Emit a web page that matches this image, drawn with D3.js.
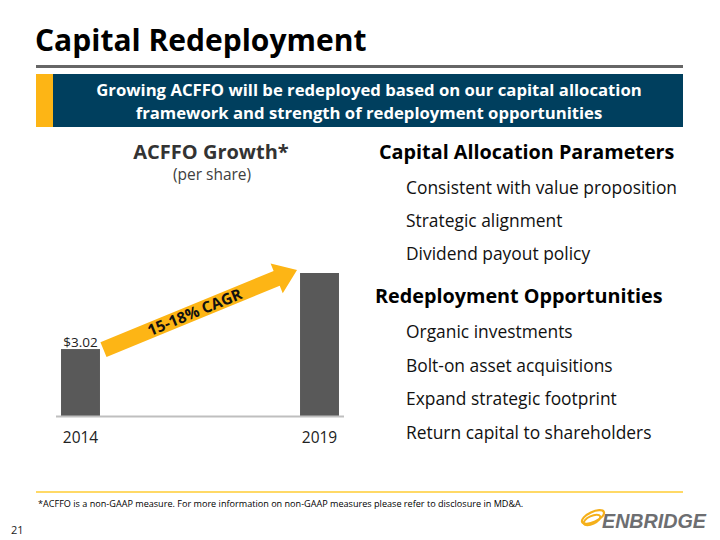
<!DOCTYPE html>
<html>
<head>
<meta charset="utf-8">
<script src="https://cdn.jsdelivr.net/npm/d3@7"></script>
<style>
  body { margin: 0; background: #fff; }
  svg { display: block; font-family: "Open Sans", Lato, sans-serif; }
</style>
</head>
<body>
<svg id="slide" width="720" height="540"></svg>
<script>
// chart data
const years = ["2014", "2019"];
const acffo = [3.02, 6.45];
const valueLabels = ["$3.02", ""];
const cagrLabel = "15-18% CAGR";

// side text
const allocHeading = "Capital Allocation Parameters";
const allocItems = ["Consistent with value proposition", "Strategic alignment", "Dividend payout policy"];
const redeployHeading = "Redeployment Opportunities";
const redeployItems = ["Organic investments", "Bolt-on asset acquisitions", "Expand strategic footprint", "Return capital to shareholders"];

const svg = d3.select("#slide");

// title + rule
svg.append("text").attr("x", 35).attr("y", 51)
  .attr("font-size", 30).attr("font-weight", 700).attr("fill", "#000")
  .text("Capital Redeployment");
svg.append("rect").attr("x", 36).attr("y", 65).attr("width", 647).attr("height", 3).attr("fill", "#666");

// banner
svg.append("rect").attr("x", 36).attr("y", 74).attr("width", 17).attr("height", 53).attr("fill", "#FDB515");
svg.append("rect").attr("x", 53).attr("y", 74).attr("width", 630).attr("height", 53).attr("fill", "#003F5E");
svg.append("text").attr("x", 369).attr("y", 96).attr("text-anchor", "middle")
  .attr("font-size", 16.7).attr("font-weight", 700).attr("fill", "#fff")
  .text("Growing ACFFO will be redeployed based on our capital allocation");
svg.append("text").attr("x", 369).attr("y", 119).attr("text-anchor", "middle")
  .attr("font-size", 16.7).attr("font-weight", 700).attr("fill", "#fff")
  .text("framework and strength of redeployment opportunities");

// chart title
svg.append("text").attr("x", 211).attr("y", 159).attr("text-anchor", "middle")
  .attr("font-size", 20).attr("font-weight", 700).attr("fill", "#333")
  .text("ACFFO Growth*");
svg.append("text").attr("x", 212).attr("y", 180).attr("text-anchor", "middle")
  .attr("font-size", 15.5).attr("fill", "#404040")
  .text("(per share)");

// scales
let xScale = d3.scaleBand().domain(years).range([56, 344]).paddingInner(0.837).paddingOuter(0.021);
let yScale = d3.scaleLinear().domain([0, d3.max(acffo)]).range([416, 273]);

let chart = svg.append("g");
chart.selectAll("rect.bar").data(years).enter()
  .append("rect").attr("class", "bar")
  .attr("x", (d) => xScale(d))
  .attr("y", (d, i) => yScale(acffo[i]))
  .attr("width", xScale.bandwidth())
  .attr("height", (d, i) => yScale(0) - yScale(acffo[i]))
  .attr("fill", "#595959");

chart.append("line")
  .attr("x1", xScale.range()[0]).attr("x2", xScale.range()[1])
  .attr("y1", yScale(0) + 0.5).attr("y2", yScale(0) + 0.5)
  .attr("stroke", "#bfbfbf").attr("stroke-width", 2);

chart.selectAll("text.year").data(years).enter()
  .append("text").attr("class", "year")
  .attr("x", (d) => xScale(d) + xScale.bandwidth() / 2)
  .attr("y", 443).attr("text-anchor", "middle")
  .attr("font-size", 15.5).attr("fill", "#222")
  .text((d) => d);

chart.selectAll("text.val").data(years).enter()
  .append("text").attr("class", "val")
  .attr("x", (d) => xScale(d) + xScale.bandwidth() / 2)
  .attr("y", (d, i) => yScale(acffo[i]) - 2).attr("text-anchor", "middle")
  .attr("font-size", 13.5).attr("fill", "#222")
  .text((d, i) => valueLabels[i]);

// CAGR arrow from first bar top to last bar top
let sx = xScale(years[0]) + xScale.bandwidth() + 3.5;
let sy = yScale(acffo[0]) + 0.5;
let tx = xScale(years[1]) - 3;
let ty = yScale(acffo[1]) - 3;
let len = Math.hypot(tx - sx, ty - sy);
let ang = Math.atan2(ty - sy, tx - sx) * 180 / Math.PI;
let shaft = 8, head = 16, headLen = 22;
let arrow = chart.append("g").attr("transform", `translate(${sx},${sy}) rotate(${ang})`);
arrow.append("path")
  .attr("d", `M0,${-shaft} L${len - headLen},${-shaft} L${len - headLen},${-head} L${len},0 L${len - headLen},${head} L${len - headLen},${shaft} L0,${shaft} Z`)
  .attr("fill", "#FDB515");
arrow.append("text")
  .attr("x", (len - headLen) / 2 + 5).attr("y", 5.5)
  .attr("text-anchor", "middle")
  .attr("font-size", 15.5).attr("font-weight", 700).attr("fill", "#111")
  .text(cagrLabel);

// right column
function writeList(heading, hx, hy, items, ix, iy0, step) {
  svg.append("text").attr("x", hx).attr("y", hy)
    .attr("font-size", 19.8).attr("font-weight", 700).attr("fill", "#000")
    .text(heading);
  svg.selectAll(null).data(items).enter()
    .append("text")
    .attr("x", ix).attr("y", (d, i) => iy0 + i * step)
    .attr("font-size", 17.4).attr("fill", "#111")
    .text((d) => d);
}
writeList(allocHeading, 379, 159, allocItems, 406, 194, 33);
writeList(redeployHeading, 375, 303, redeployItems, 406, 338, 33.5);

// footer
svg.append("rect").attr("x", 36).attr("y", 491).attr("width", 647).attr("height", 2).attr("fill", "#FFD966");
svg.append("text").attr("x", 38).attr("y", 507)
  .attr("font-size", 9.1).attr("fill", "#000")
  .text("*ACFFO is a non-GAAP measure. For more information on non-GAAP measures please refer to disclosure in MD&A.");
svg.append("text").attr("x", 11).attr("y", 534)
  .attr("font-size", 11).attr("fill", "#222").text("21");

// logo
let logo = svg.append("g").attr("transform", "translate(580,503)");
logo.append("ellipse").attr("cx", 13).attr("cy", 14).attr("rx", 12).attr("ry", 5)
  .attr("transform", "rotate(-25,13,14)")
  .attr("fill", "none").attr("stroke", "#F5B01A").attr("stroke-width", 2.2);
logo.append("ellipse").attr("cx", 12).attr("cy", 17).attr("rx", 9).attr("ry", 4)
  .attr("transform", "rotate(-25,12,17)")
  .attr("fill", "none").attr("stroke", "#F5B01A").attr("stroke-width", 2);
logo.append("text").attr("x", 22).attr("y", 25)
  .attr("font-family", "'Liberation Sans Narrow', 'Liberation Sans', sans-serif")
  .attr("font-size", 21).attr("font-weight", 700).attr("font-style", "italic")
  .attr("fill", "#6D6E71")
  .attr("textLength", 104).attr("lengthAdjust", "spacingAndGlyphs")
  .text("ENBRIDGE");
</script>
</body>
</html>
